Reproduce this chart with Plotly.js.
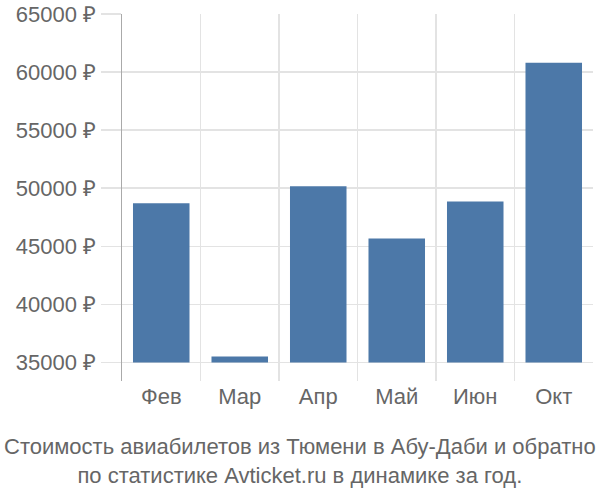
<!DOCTYPE html>
<html>
<head>
<meta charset="utf-8">
<script src="https://cdn.plot.ly/plotly-3.0.1.min.js"></script>
<style>
  html, body { margin: 0; padding: 0; background: #fff; }
  #chart { width: 600px; height: 500px; }
</style>
</head>
<body>
<div id="chart"></div>
<script>
// Monthly ticket prices, Tyumen <-> Abu Dhabi
const months = ["Фев", "Мар", "Апр", "Май", "Июн", "Окт"];
const prices = [48700, 35520, 50170, 45680, 48850, 60810];
const baseValue = 35000;
const captionLines = [
  "Стоимость авиабилетов из Тюмени в Абу-Даби и обратно",
  "по статистике Avticket.ru в динамике за год."
];

const textColor = "#666666";
const gridColor = "#e3e3e3";

const trace = {
  x: months,
  y: prices.map((p) => p - baseValue),
  base: baseValue,
  type: "bar",
  marker: { color: "#4c78a8" },
  hoverinfo: "skip",
};

const layout = {
  width: 600,
  height: 500,
  margin: { l: 122, r: 7, t: 14, b: 119 },
  font: { family: "Liberation Sans, Arial, sans-serif", color: textColor },
  bargap: 0.28,
  showlegend: false,
  xaxis: {
    type: "category",
    range: [-0.5, 5.5],
    tickson: "boundaries",
    showgrid: true,
    gridcolor: gridColor,
    gridwidth: 1.5,
    ticks: "",
    showline: false,
    zeroline: false,
    tickfont: { size: 22, color: textColor },
  },
  yaxis: {
    range: [33400, 65000],
    tick0: 35000,
    dtick: 5000,
    tickformat: "d",
    ticksuffix: " ₽",
    showgrid: true,
    gridcolor: gridColor,
    gridwidth: 1.5,
    ticks: "outside",
    ticklen: 20,
    tickcolor: gridColor,
    tickwidth: 1.5,
    showline: true,
    linecolor: "#aaaaaa",
    linewidth: 1.5,
    zeroline: false,
    tickfont: { size: 22, color: textColor },
  },
  annotations: [
    {
      text: captionLines.join("<br>"),
      xref: "paper",
      yref: "paper",
      x: 0.5,
      xshift: -58,
      y: -0.14,
      xanchor: "center",
      yanchor: "top",
      showarrow: false,
      font: { size: 22, color: textColor },
    },
  ],
  plot_bgcolor: "#fff",
  paper_bgcolor: "#fff",
};

Plotly.newPlot("chart", [trace], layout, { displayModeBar: false, staticPlot: true });
</script>
</body>
</html>
